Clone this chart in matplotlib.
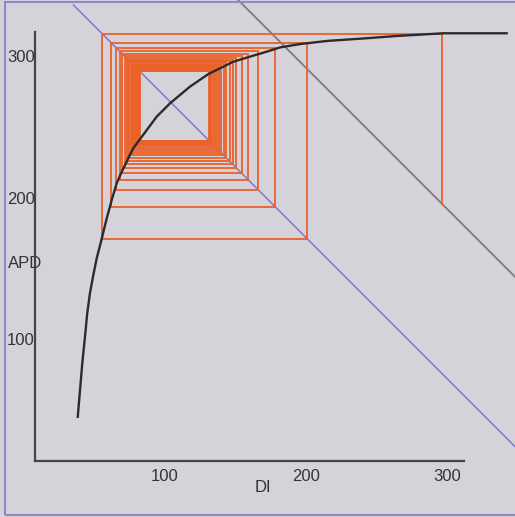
import matplotlib
matplotlib.use("Agg")
import matplotlib.pyplot as plt
from matplotlib.patches import Rectangle

# restitution curve (DI, APD)
curve_di = [38.7, 40.3, 41.9, 43.8, 45.4, 47.3, 49.7, 52.1, 55.1, 59.2, 62.7, 66.2,
            69.8, 74.4, 77.9, 83.0, 94.5, 103.9, 118.0, 131.0, 148.6, 160.4, 172.2,
            181.6, 195.8, 215.0, 242.9, 264.1, 297.0, 341.8]
curve_apd = [45.4, 64.3, 83.2, 102.0, 118.5, 132.6, 145.6, 157.4, 169.1, 185.7, 198.6, 210.4,
             218.6, 228.1, 235.1, 242.0, 257.5, 266.9, 278.7, 287.6, 296.3, 299.9, 303.4,
             306.4, 308.8, 311.0, 312.9, 314.5, 316.4, 316.4]

# cycle lengths of the two pacing lines (APD + DI = BCL)
bcl_main = 372
bcl_prev = 492
main_di = [35.6, 347.7]
prev_di = [152.1, 347.7]

# cobweb beats (DI, APD) in order
beat_di = [296, 56, 200.8, 62.4, 178.4, 65.8, 166.3, 68.3, 159.0, 70.2, 154.6, 71.9,
           150.8, 73.3, 148.3, 74.3, 146.0, 75.2, 143.7, 76.1, 141.9, 77.0, 140.2, 77.8,
           138.6, 78.6, 137.2, 79.4, 135.9, 80.1, 134.7, 80.8, 133.7, 81.4, 132.9, 81.9,
           132.3, 82.3, 131.9, 82.6, 131.6]
beat_apd = [316, 171.2, 309.6, 193.6, 306.2, 205.7, 303.7, 213.0, 301.8, 217.4, 300.1,
            221.2, 298.7, 223.7, 297.7, 226.0, 296.8, 228.3, 295.9, 230.1, 295.0, 231.8,
            294.2, 233.4, 293.4, 234.8, 292.6, 236.1, 291.9, 237.3, 291.2, 238.3, 290.6,
            239.1, 290.1, 239.7, 289.7, 240.1, 289.4, 240.4, 289.2]
start_apd = 196

ticks = [100, 200, 300]

bg = '#d5d3d9'
W, H = 515, 517
fig = plt.figure(figsize=(W / 100, H / 100), dpi=100, facecolor=bg)
ax = fig.add_axes([35 / W, (H - 461) / H, (464 - 35) / W, (461 - 32) / H])
ax.set_facecolor(bg)
ax.set_xlim(8.48, 311.66)
ax.set_ylim(14.13, 317.31)

for s in ['top', 'right']:
    ax.spines[s].set_visible(False)
for s in ['left', 'bottom']:
    ax.spines[s].set_color('#444444')
    ax.spines[s].set_linewidth(1.6)

font = dict(family='Liberation Sans', size=12, color='#333333')
ax.set_xticks(ticks)
ax.set_yticks(ticks)
ax.set_xticklabels([str(t) for t in ticks], **font)
ax.set_yticklabels([str(t) for t in ticks], **font)
ax.tick_params(axis='both', length=0)
ax.tick_params(axis='x', pad=6)
ax.tick_params(axis='y', pad=0)

# pacing lines
ax.plot(main_di, [bcl_main - d for d in main_di], color='#7b7bd0', lw=1.1, clip_on=False)
ax.plot(prev_di, [bcl_prev - d for d in prev_di], color='#7c7c80', lw=1.3, clip_on=False)

# cobweb
px = [beat_di[0]]
py = [start_apd]
for n in range(len(beat_di)):
    px.append(beat_di[n])
    py.append(beat_apd[n])
    if n + 1 < len(beat_di):
        px.append(beat_di[n + 1])
        py.append(beat_apd[n])
ax.plot(px, py, color='#ea6228', lw=1.3, clip_on=False, solid_joinstyle='miter')

# restitution curve
ax.plot(curve_di, curve_apd, color='#2b2b2b', lw=1.7, clip_on=False, zorder=5)

fig.text(8 / W, 1 - 263 / H, 'APD', ha='left', va='center', **font)
fig.text(263 / W, 1 - 487 / H, 'DI', ha='center', va='center', **font)

fig.patches.append(Rectangle((5 / W, 2 / H), 1.0, 513 / H, transform=fig.transFigure,
                             fill=False, ec='#8a8ac6', lw=1.5))

fig.savefig('out.png', dpi=100, facecolor=bg)
